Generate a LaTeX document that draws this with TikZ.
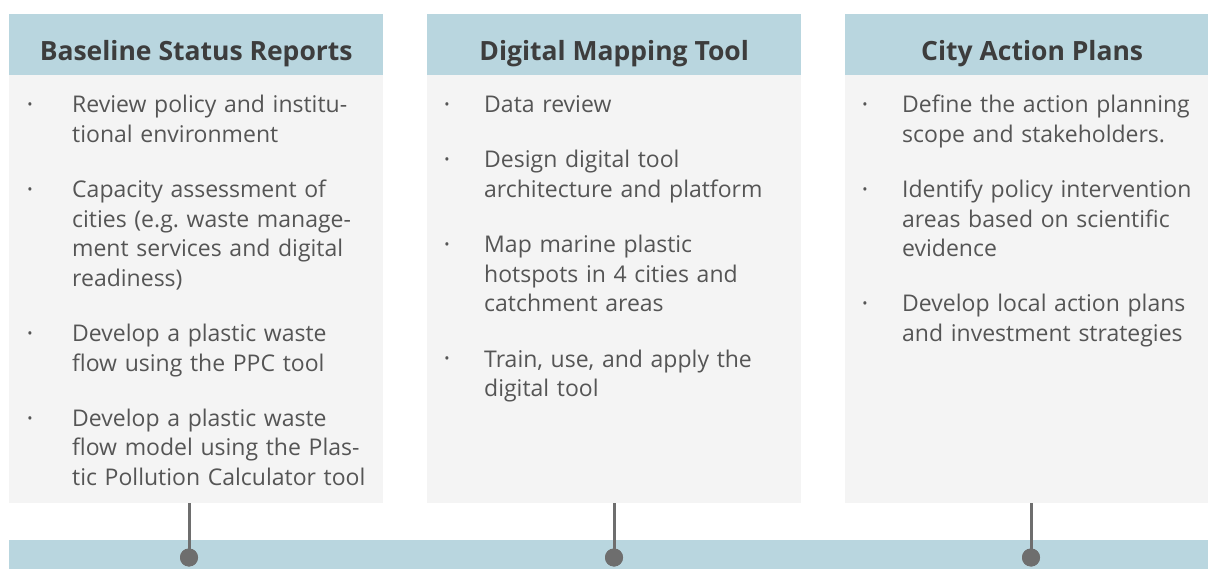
\documentclass[tikz,border=0pt]{standalone}
\usepackage{fontspec}
\setmainfont{Open Sans}
\frenchspacing
\definecolor{headc}{HTML}{B9D6DF}
\definecolor{bodyc}{HTML}{F4F4F4}
\definecolor{titlec}{HTML}{3D3D3D}
\definecolor{txtc}{HTML}{555555}
\definecolor{connc}{HTML}{6E6E6E}
\tikzset{
  headbox/.style={fill=headc, draw=none, minimum width=374pt, inner sep=0pt,
    text height=46pt, text depth=15pt, anchor=north west,
    font=\fontsize{26.5}{30}\selectfont\bfseries, text=titlec},
  bodybox/.style={fill=bodyc, draw=none, minimum width=374pt, minimum height=428pt,
    inner sep=0pt, anchor=north west},
  itemtext/.style={anchor=base west, text width=330pt, align=left, inner sep=0pt,
    font=\fontsize{23}{29.5}\selectfont\frenchspacing, text=txtc},
  bul/.style={anchor=base, inner sep=0pt, font=\fontsize{14}{14}\selectfont, text=txtc},
  dot/.style={circle, fill=connc, draw=none, minimum size=18pt, inner sep=0pt},
  conn/.style={draw=connc, line width=3pt}
}
\begin{document}
\begin{tikzpicture}[x=1pt,y=-1pt]
\useasboundingbox (0,0) rectangle (1208,569);
\clip (0,0) rectangle (1208,569);
% bar
\node[fill=headc, draw=none, minimum width=1220pt, minimum height=40pt, inner sep=0pt, anchor=north west] (bar) at (9,540) {};
% boxes
\node[headbox] (h1) at (9,14) {Baseline Status Reports};
\node[bodybox] (b1) at (9,75) {};
\node[headbox] (h2) at (427,14) {Digital Mapping Tool};
\node[bodybox] (b2) at (427,75) {};
\node[headbox] (h3) at (845,14) {City Action Plans};
\node[bodybox] (b3) at (845,75) {};
% dots and connectors
\node[dot] (d1) at (189,557.5) {};
\node[dot] (d2) at (614,557.5) {};
\node[dot] (d3) at (1031,557.5) {};
\draw[conn] (b1.south -| d1) -- (d1.center);
\draw[conn] (b2.south -| d2) -- (d2.center);
\draw[conn] (b3.south -| d3) -- (d3.center);
\node[dot] at (d1) {};
\node[dot] at (d2) {};
\node[dot] at (d3) {};
% column 1
\node[bul] (p11) at (30,110) {•};
\node[itemtext] (i11) at (72,113) {Review policy and institu-\\tional environment};
\node[bul] (p12) at (30,195) {•};
\node[itemtext] (i12) at (72,198) {Capacity assessment of\\cities (e.g. waste manage-\\ment services and digital\\readiness)};
\node[bul] (p13) at (30,339) {•};
\node[itemtext] (i13) at (72,342) {Develop a plastic waste\\flow using the PPC tool};
\node[bul] (p14) at (30,423) {•};
\node[itemtext] (i14) at (72,426) {Develop a plastic waste\\flow model using the Plas-\\tic Pollution Calculator tool};
% column 2
\node[bul] (p21) at (447,110) {•};
\node[itemtext] (i21) at (484,113) {Data review};
\node[bul] (p22) at (447,165) {•};
\node[itemtext] (i22) at (484,168) {Design digital tool\\architecture and platform};
\node[bul] (p23) at (447,250) {•};
\node[itemtext] (i23) at (484,253) {Map marine plastic\\hotspots in 4 cities and\\catchment areas};
\node[bul] (p24) at (447,364) {•};
\node[itemtext] (i24) at (484,367) {Train, use, and apply the\\digital tool};
% column 3
\node[bul] (p31) at (865,110) {•};
\node[itemtext] (i31) at (902,113) {Define the action planning\\scope and stakeholders.};
\node[bul] (p32) at (865,195) {•};
\node[itemtext] (i32) at (902,198) {Identify policy intervention\\areas based on scientific\\evidence};
\node[bul] (p33) at (865,309) {•};
\node[itemtext] (i33) at (902,312) {Develop local action plans\\and investment strategies};
\end{tikzpicture}
\end{document}
